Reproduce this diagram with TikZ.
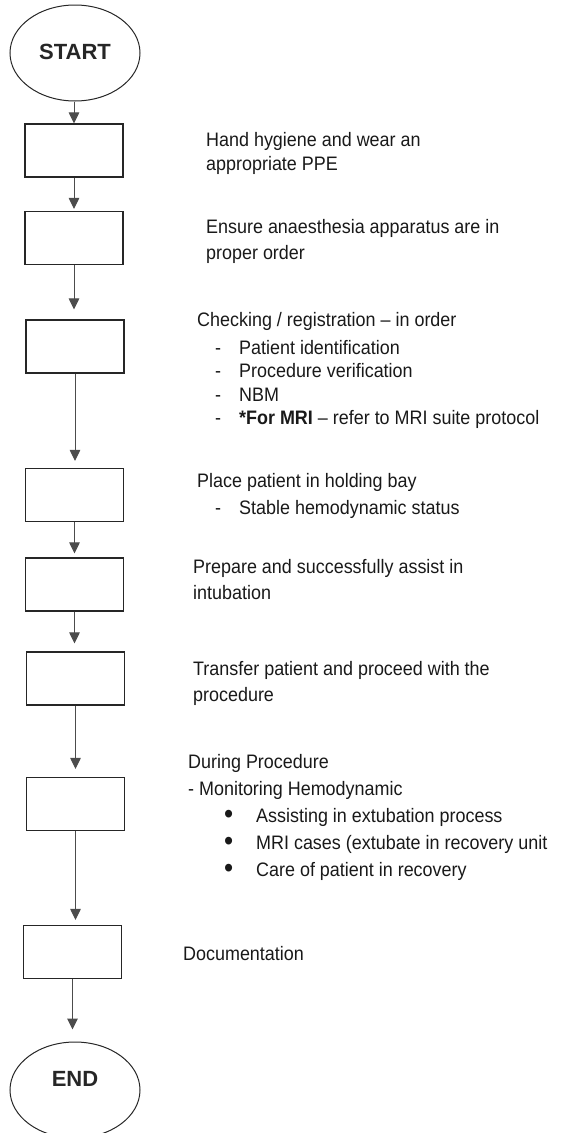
\documentclass[tikz,border=0pt]{standalone}
\usepackage{fontspec}
\usepackage{graphicx}
\setmainfont{Liberation Sans}
\newfontfamily\notefont{Liberation Sans}[FakeStretch=0.92,Ligatures=TeX]
\usetikzlibrary{shapes.geometric,arrows.meta}
% list helpers for the step notes
\newcommand\dashitem[1]{\hspace*{18pt}\makebox[24pt][l]{-}#1}
\newcommand\dotitem[1]{\hspace*{36pt}\makebox[32pt][l]{\raisebox{-1pt}{\scalebox{1.45}{\textbullet}}}#1}
% top-aligned block of lines, baseline on the first line
\newcommand\lines[1]{\begin{tabular}[t]{@{}l@{}}#1\end{tabular}}
\begin{document}
\begin{tikzpicture}[x=1pt,y=-1pt,
  flowbox/.style={draw=black!85, line width=1.1pt, minimum width=98pt,
    minimum height=53pt, inner sep=0pt},
  term/.style={ellipse, draw=black!85, line width=1pt, minimum width=130pt,
    minimum height=96pt, inner sep=0pt,
    font=\fontsize{22}{26}\selectfont\bfseries, text=black!85},
  arr/.style={draw=black!70, line width=1pt,
    -{Triangle[length=11pt,width=10.5pt]}},
  note/.style={anchor=base west, inner sep=0pt, text=black!90,
    font=\notefont\fontsize{19.5}{24}\selectfont},
]
\useasboundingbox (0,0) rectangle (566,1133);

% terminals and process boxes
\node[term] (start) at (75,53) {\raisebox{-6pt}[0pt][0pt]{START}};
\node[flowbox] (b1) at (74,150.5) {};
\node[flowbox] (b2) at (74,238) {};
\node[flowbox] (b3) at (75,346.5) {};
\node[flowbox] (b4) at (74.5,495) {};
\node[flowbox] (b5) at (74.5,584.5) {};
\node[flowbox] (b6) at (75.5,678.5) {};
\node[flowbox] (b7) at (75.5,804) {};
\node[flowbox] (b8) at (72.5,952) {};
\node[term] (end) at (75,1090) {\raisebox{4pt}[0pt][0pt]{END}};

% connectors
\draw[arr] (start.south -| b1) -- (b1.north);
\draw[arr, shorten >=2pt] (b1.south) -- (b1.south |- b2.north);
\draw[arr, shorten >=10pt] (b2.south) -- (b2.south |- b3.north);
\draw[arr, shorten >=7pt] (b3.south) -- (b3.south |- b4.north);
\draw[arr, shorten >=4pt] (b4.south) -- (b4.south |- b5.north);
\draw[arr, shorten >=8pt] (b5.south) -- (b5.south |- b6.north);
\draw[arr, shorten >=8pt] (b6.south) -- (b6.south |- b7.north);
\draw[arr, shorten >=5pt] (b7.south) -- (b7.south |- b8.north);
\draw[arr, shorten >=12pt] (b8.south) -- (b8.south |- end.north);

% step descriptions
\node[note] (t1) at (206,146) {\lines{Hand hygiene and wear an\\appropriate PPE}};
\node[note, font=\notefont\fontsize{19.5}{26}\selectfont] (t2) at (206,233)
  {\lines{Ensure anaesthesia apparatus are in\\proper order}};
\node[note, font=\notefont\fontsize{19.5}{23.5}\selectfont] (t3) at (197,326)
  {\lines{Checking / registration – in order\\[4.5pt]
   \dashitem{Patient identification}\\
   \dashitem{Procedure verification}\\
   \dashitem{NBM}\\
   \dashitem{\textbf{*For MRI} – refer to MRI suite protocol}}};
\node[note, font=\notefont\fontsize{19.5}{27}\selectfont] (t4) at (197,487)
  {\lines{Place patient in holding bay\\\dashitem{Stable hemodynamic status}}};
\node[note, font=\notefont\fontsize{19.5}{26}\selectfont] (t5) at (193,573)
  {\lines{Prepare and successfully assist in\\intubation}};
\node[note, font=\notefont\fontsize{19.5}{26}\selectfont] (t6) at (193,675)
  {\lines{Transfer patient and proceed with the\\procedure}};
\node[note, font=\notefont\fontsize{19.5}{27}\selectfont] (t7) at (188,768)
  {\lines{During Procedure\\- Monitoring Hemodynamic\\
   \dotitem{Assisting in extubation process}\\
   \dotitem{MRI cases (extubate in recovery unit}\\
   \dotitem{Care of patient in recovery}}};
\node[note] (t8) at (183,960) {Documentation};
\end{tikzpicture}
\end{document}
